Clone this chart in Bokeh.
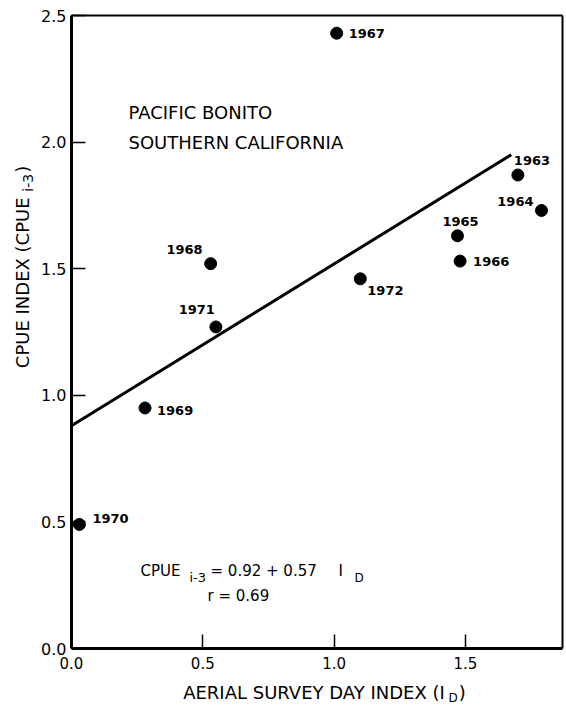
import math
from bokeh.plotting import figure
from bokeh.models import Range1d, Label, FixedTicker, LinearAxis
from bokeh.embed import file_html
from bokeh.resources import INLINE

# ---------------- data ----------------
years = ["1963", "1964", "1965", "1966", "1967", "1968", "1969", "1970", "1971", "1972"]
aerial_index = [1.70, 1.79, 1.47, 1.48, 1.01, 0.53, 0.28, 0.03, 0.55, 1.10]
cpue_index = [1.87, 1.73, 1.63, 1.53, 2.43, 1.52, 0.95, 0.49, 1.27, 1.46]
fit_x = [0.0, 1.675]
fit_y = [0.88, 1.95]
x_ticks = [0.0, 0.5, 1.0, 1.5]
x_tick_labels = ["0.0", "0.5", "1.0", "1.5"]
y_ticks = [0.0, 0.5, 1.0, 1.5, 2.0, 2.5]
y_tick_labels = ["0.0", "0.5", "1.0", "1.5", "2.0", "2.5"]
x_lim = (0.0, 1.87)
y_lim = (0.0, 2.5)

# ---------------- layout ----------------
W, H = 566, 709
BOX_L, BOX_R, BOX_T, BOX_B = 71, 562, 15, 648   # plot box in canvas pixels
FONT = "DejaVu Sans"
XS = (BOX_R - BOX_L) / (x_lim[1] - x_lim[0])
YS = (BOX_B - BOX_T) / (y_lim[1] - y_lim[0])
xr = Range1d(x_lim[0] - BOX_L / XS, x_lim[1] + (W - BOX_R) / XS)
yr = Range1d(y_lim[0] - (H - BOX_B) / YS, y_lim[1] + BOX_T / YS)


def dxp(px):
    return x_lim[0] + (px - BOX_L) / XS


def dyp(py):
    return y_lim[0] + (BOX_B - py) / YS


# approximate DejaVu Sans advance widths (em)
_WID = {" ": .318, "(": .390, ")": .390, "-": .361, ".": .318, "=": .838, "+": .838,
        "A": .684, "B": .686, "C": .698, "D": .770, "E": .632, "F": .575, "H": .752,
        "I": .295, "L": .557, "N": .748, "O": .787, "P": .603, "R": .695, "S": .635,
        "T": .611, "U": .732, "V": .684, "X": .685, "Y": .611, "i": .278, "r": .411}


def tw(s, size):
    return sum(_WID.get(c, .636) for c in s) * size


p = figure(width=W, height=H, x_range=xr, y_range=yr,
           output_backend="svg", toolbar_location=None,
           min_border_left=0, min_border_right=0, min_border_top=0, min_border_bottom=0)
p.background_fill_color = "white"
p.border_fill_color = "white"
p.outline_line_color = None
p.grid.visible = False

p.xaxis.fixed_location = y_lim[0]
p.xaxis.bounds = x_lim
p.yaxis.fixed_location = x_lim[0]
p.yaxis.bounds = y_lim

for ax, ticks, labels in ((p.xaxis, x_ticks, x_tick_labels), (p.yaxis, y_ticks, y_tick_labels)):
    ax.ticker = FixedTicker(ticks=ticks)
    ax.major_label_overrides = {t: l for t, l in zip(ticks, labels)}
    ax.axis_line_width = 3
    ax.axis_line_color = "black"
    ax.major_tick_in = 14
    ax.major_tick_out = 0
    ax.major_tick_line_width = 1.5
    ax.minor_tick_line_color = None
    ax.major_label_text_font = FONT
    ax.major_label_text_color = "black"
p.xaxis.major_label_text_font_size = "15px"
p.yaxis.major_label_text_font_size = "16px"
p.xaxis.major_label_standoff = 8
p.yaxis.major_label_standoff = 5

# top and right edges of the plot box
top_ax = LinearAxis(fixed_location=y_lim[1], bounds=x_lim, ticker=FixedTicker(ticks=[]),
                    axis_line_width=2, major_tick_line_color=None, minor_tick_line_color=None,
                    major_label_text_color=None)
right_ax = LinearAxis(fixed_location=x_lim[1], bounds=y_lim, ticker=FixedTicker(ticks=[]),
                      axis_line_width=2, major_tick_line_color=None, minor_tick_line_color=None,
                      major_label_text_color=None)
p.add_layout(top_ax, "above")
p.add_layout(right_ax, "right")

# regression line and points
p.line(fit_x, fit_y, line_color="black", line_width=3)
p.scatter(aerial_index, cpue_index, size=12, fill_color="black", line_color="black")

# year labels: offsets in screen px (dx right, dy down) and alignment
year_offsets = {"1963": (-4, -15, "left"), "1964": (-8, -9, "right"), "1965": (3, -14, "center"),
                "1966": (13, 0, "left"), "1967": (12, 0, "left"), "1968": (-8, -14, "right"),
                "1969": (12, 3, "left"), "1970": (13, -6, "left"), "1971": (-1, -17, "right"),
                "1972": (7, 12, "left")}
for yr_, xv, yv in zip(years, aerial_index, cpue_index):
    ox, oy, al = year_offsets[yr_]
    p.add_layout(Label(x=xv + ox / XS, y=yv - oy / YS, text=yr_, text_font=FONT,
                       text_font_size="13px", text_font_style="bold", text_align=al,
                       text_baseline="middle", text_color="black"))


def lab(px, py, text, size, angle=0.0, align="left"):
    p.add_layout(Label(x=dxp(px), y=dyp(py), text=text, text_font=FONT,
                       text_font_size=f"{size}px", text_align=align, text_baseline="middle",
                       angle=angle, text_color="black"))


# title text
lab(128, 112, "PACIFIC BONITO", 18)
lab(128, 142, "SOUTHERN CALIFORNIA", 18)

# equation
lab(140, 570, "CPUE", 15)
lab(189, 577, "i-3", 13)
lab(210, 570, "= 0.92 + 0.57", 15)
lab(338, 570, "I", 15)
lab(354, 577, "D", 12)
lab(207, 595, "r = 0.69", 15)

# x axis label (with subscript)
xa_main, xa_sub, xa_end = "AERIAL SURVEY DAY INDEX (I", "D", ")"
w1, w2, w3 = tw(xa_main, 18), tw(xa_sub, 12), tw(xa_end, 18)
x0 = 323 - (w1 + w2 + w3) / 2
lab(x0, 692, xa_main, 18)
lab(x0 + w1 + 1, 697, xa_sub, 12)
lab(x0 + w1 + w2 + 2, 692, xa_end, 18)

# y axis label (rotated, with subscript)
ya_main, ya_sub, ya_end = "CPUE INDEX (CPUE ", "i-3", ")"
h1, h2, h3 = tw(ya_main, 18), tw(ya_sub, 14), tw(ya_end, 18)
y0 = 267 + (h1 + h2 + h3) / 2
A = math.pi / 2
lab(22, y0, ya_main, 18, A)
lab(27, y0 - h1, ya_sub, 14, A)
lab(22, y0 - h1 - h2 - 1, ya_end, 18, A)

open("out.html", "w").write(file_html(p, INLINE))
